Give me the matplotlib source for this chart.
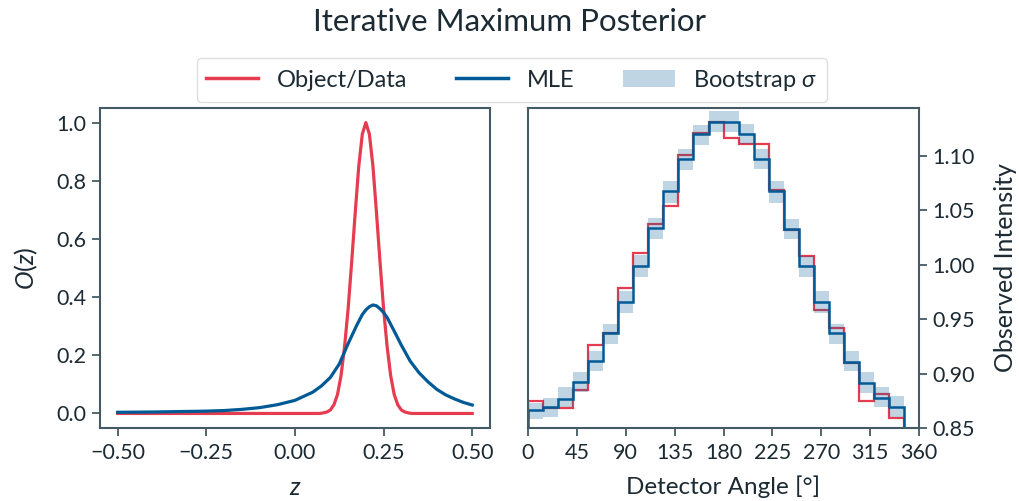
import numpy as np
import matplotlib
matplotlib.use("Agg")
import matplotlib.pyplot as plt
from matplotlib.lines import Line2D
from matplotlib.patches import Patch

# colours
RED = "#e63c50"
BLUE = "#005a96"
INK = "#1b2a33"
SPINE = "#455a64"

plt.rcParams["font.family"] = ["Lato", "DejaVu Sans"]
plt.rcParams["mathtext.fontset"] = "custom"
plt.rcParams["mathtext.rm"] = "Lato"
plt.rcParams["mathtext.it"] = "Lato:italic"
plt.rcParams["font.size"] = 15.5
plt.rcParams["text.color"] = INK
plt.rcParams["axes.labelcolor"] = INK
plt.rcParams["xtick.color"] = INK
plt.rcParams["ytick.color"] = INK
plt.rcParams["axes.edgecolor"] = SPINE
plt.rcParams["axes.linewidth"] = 1.5

# --- left panel: object vs MLE reconstruction ---
z_obj = [-0.50, 0.06, 0.07, 0.08, 0.09, 0.10, 0.11, 0.12, 0.13, 0.14, 0.15, 0.16,
         0.17, 0.18, 0.19, 0.20, 0.21, 0.22, 0.23, 0.24, 0.25, 0.26, 0.27, 0.28,
         0.29, 0.30, 0.31, 0.32, 0.33, 0.34, 0.50]
obj = [0.0, 0.0, 0.0, 0.002, 0.005, 0.012, 0.03, 0.065, 0.13, 0.23, 0.36, 0.52,
       0.69, 0.85, 0.96, 1.0, 0.96, 0.85, 0.69, 0.52, 0.36, 0.23, 0.13, 0.065,
       0.03, 0.012, 0.005, 0.002, 0.0, 0.0, 0.0]

z_mle = [-0.50, -0.40, -0.30, -0.25, -0.20, -0.15, -0.10, -0.05, 0.00, 0.05,
         0.075, 0.10, 0.125, 0.15, 0.175, 0.19, 0.20, 0.21, 0.22, 0.23, 0.24,
         0.25, 0.26, 0.28, 0.30, 0.325, 0.35, 0.375, 0.40, 0.425, 0.45, 0.475, 0.50]
mle = [0.004, 0.005, 0.007, 0.008, 0.010, 0.014, 0.020, 0.030, 0.045, 0.073,
       0.095, 0.124, 0.170, 0.240, 0.305, 0.340, 0.356, 0.367, 0.373, 0.370, 0.360,
       0.347, 0.330, 0.283, 0.235, 0.180, 0.140, 0.109, 0.083, 0.064, 0.050, 0.038, 0.029]

# --- right panel: observed intensity per detector bin ---
n_bins = 26
edges = np.linspace(0, 360, n_bins + 1)[:n_bins]
data_int = [0.875, 0.868, 0.868, 0.885, 0.926, 0.937, 0.979, 1.011, 1.037, 1.054,
            1.101, 1.121, 1.131, 1.116, 1.111, 1.111, 1.069, 1.032, 1.008, 0.958,
            0.942, 0.910, 0.875, 0.881, 0.859]
mle_int = [0.867, 0.869, 0.877, 0.892, 0.912, 0.937, 0.966, 0.999, 1.034, 1.068,
           1.097, 1.120, 1.131, 1.131, 1.120, 1.097, 1.068, 1.033, 0.999, 0.966,
           0.937, 0.911, 0.891, 0.878, 0.869]
boot_lo = [0.858, 0.860, 0.869, 0.883, 0.902, 0.927, 0.956, 0.989, 1.024, 1.057,
           1.087, 1.110, 1.122, 1.122, 1.111, 1.088, 1.057, 1.024, 0.989, 0.956,
           0.927, 0.902, 0.882, 0.869, 0.860]
boot_hi = [0.873, 0.878, 0.888, 0.901, 0.921, 0.946, 0.976, 1.009, 1.043, 1.077,
           1.106, 1.128, 1.141, 1.141, 1.129, 1.106, 1.077, 1.042, 1.008, 0.976,
           0.946, 0.921, 0.901, 0.888, 0.879]

fig = plt.figure(figsize=(10.19, 5.01), dpi=100)
ax1 = fig.add_axes([0.0981, 0.1457, 0.3827, 0.6387])
ax2 = fig.add_axes([0.5182, 0.1457, 0.3837, 0.6387])

ax1.plot(z_obj, obj, color=RED, lw=2.3)
ax1.plot(z_mle, mle, color=BLUE, lw=2.3)
ax1.set_xlim(-0.55, 0.55)
ax1.set_ylim(-0.05, 1.05)
ax1.set_xticks([-0.5, -0.25, 0.0, 0.25, 0.5])
ax1.set_xticklabels(["\u22120.50", "\u22120.25", "0.00", "0.25", "0.50"])
ax1.set_yticks([0.0, 0.2, 0.4, 0.6, 0.8, 1.0])
ax1.set_yticklabels(["0.0", "0.2", "0.4", "0.6", "0.8", "1.0"])
ax1.set_xlabel("$z$", fontsize=18, labelpad=9)
ax1.set_ylabel("$O(z)$", fontsize=18, labelpad=12)

ax2.stairs(data_int, edges, baseline=0, color=RED, lw=1.6)
ax2.stairs(boot_hi, edges, baseline=boot_lo, fill=True, color=BLUE, alpha=0.25, lw=0)
ax2.stairs(mle_int, edges, baseline=0, color=BLUE, lw=1.8)
ax2.set_xlim(0, 360)
ax2.set_ylim(0.85, 1.144)
ax2.set_xticks(range(0, 361, 45))
ax2.set_yticks([0.85, 0.90, 0.95, 1.00, 1.05, 1.10])
ax2.set_yticklabels(["0.85", "0.90", "0.95", "1.00", "1.05", "1.10"])
ax2.yaxis.tick_right()
ax2.yaxis.set_label_position("right")
ax2.set_xlabel("Detector Angle [\u00b0]", fontsize=17.5, labelpad=9)
ax2.set_ylabel("Observed Intensity", fontsize=18, labelpad=14)

for ax in (ax1, ax2):
    ax.tick_params(length=6, width=1.3, color=SPINE, labelsize=15.5)
    ax.tick_params(axis="x", pad=5)

handles = [Line2D([], [], color=RED, lw=2.5),
           Line2D([], [], color=BLUE, lw=2.5),
           Patch(facecolor=BLUE, alpha=0.25, edgecolor="none")]
fig.legend(handles, ["Object/Data", "MLE", "Bootstrap $\\sigma$"],
           loc="center", bbox_to_anchor=(0.5025, 0.840), ncol=3,
           fontsize=17, frameon=True, edgecolor="#d5d8da", fancybox=True,
           handlelength=2.2, handletextpad=0.8, columnspacing=2.05)

fig.suptitle("Iterative Maximum Posterior", fontsize=22.5, y=0.985)

fig.savefig("out.png", dpi=100)
